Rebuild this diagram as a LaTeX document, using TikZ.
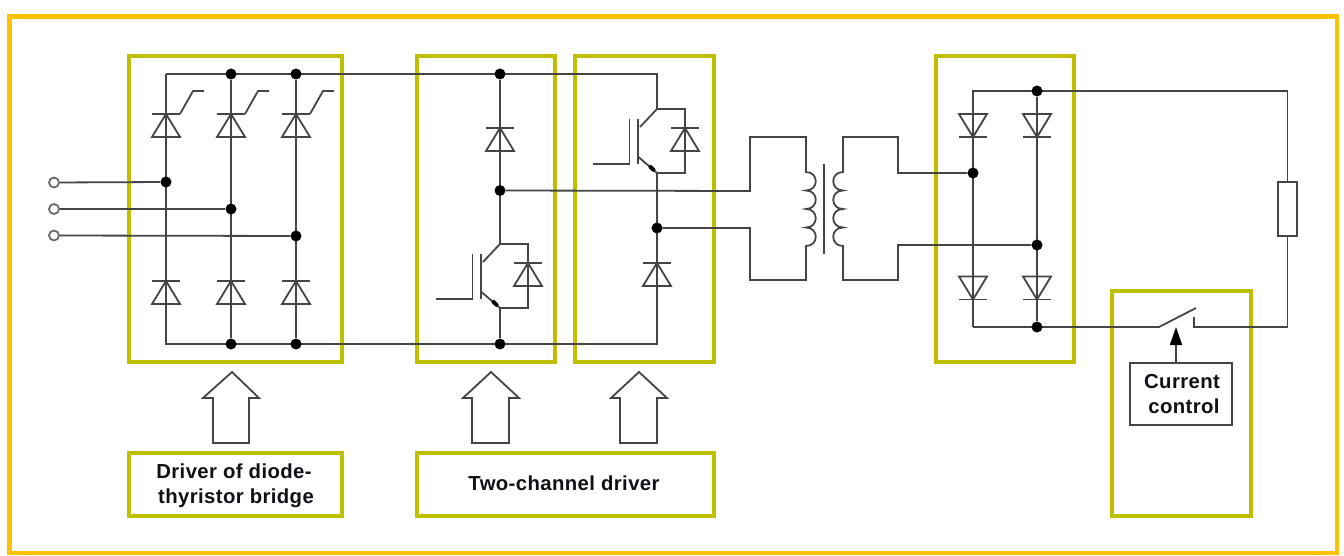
\documentclass[tikz,border=0pt]{standalone}
\usepackage{fontspec}
\setmainfont[LetterSpace=2]{Liberation Sans}
\usetikzlibrary{arrows.meta}
\pgfdeclarelayer{dotlayer}
\pgfsetlayers{main,dotlayer}
\definecolor{wirecol}{HTML}{454545}
\definecolor{framecol}{HTML}{BFBF00}
\definecolor{outercol}{HTML}{FFC000}
\definecolor{textcol}{HTML}{101018}
\tikzset{
  wire/.style={draw=wirecol,line width=1.8pt,line join=miter},
  junction/.style={circle,fill=black,draw=none,inner sep=0pt,minimum size=11pt},
  terminal/.style={circle,draw=wirecol!80,line width=1.8pt,fill=white,inner sep=0pt,minimum size=10pt},
  framebox/.style={rectangle,draw=framecol,line width=3.2pt,inner sep=0pt,outer sep=0pt},
  label/.style={font=\fontsize{20.3}{25}\selectfont\bfseries,text=textcol,inner sep=0pt,anchor=base},
  blockarrow/.style={draw=wirecol,line width=1.8pt,line join=miter,fill=white},
  diode/.pic={
    \draw[wire] (-14,0) -- (14,0);
    \draw[wire] (0,0) -- (-14,23) -- (14,23) -- cycle;
  },
  gatedtail/.pic={
    \draw[wire] (14,0) -- (27,-23) -- (38,-23);
  },
  igbt/.pic={
    \draw[wire] (0,0) -- (28,0) -- (28,64) -- (0,64);
    \draw[wire] (0,0) -- (-17,18);
    \draw[wire] (-18.5,48) -- (0,64);
    \draw[draw=black,line width=4pt,line cap=round] (-6.5,58) -- (-3.5,60.8);
    \draw[wire] (-19,10) -- (-19,55);
    \draw[wire] (-27.5,10) -- (-27.5,55) -- (-64,55);
  }
}
\begin{document}
\begin{tikzpicture}[x=1pt,y=-1pt]
\useasboundingbox (0,0) rectangle (1344,556);
\fill[white] (0,0) rectangle (1344,556);
% frames
\node[rectangle,draw=outercol,line width=4.6pt,inner sep=0pt,minimum width=1327.5pt,minimum height=536.5pt] (outer) at (673.25,284.75) {};
\node[framebox,minimum width=213pt,minimum height=306pt] (bridgebox) at (235.5,209) {};
\node[framebox,minimum width=138pt,minimum height=306pt] (leftbox) at (486,209) {};
\node[framebox,minimum width=139pt,minimum height=306pt] (rightbox) at (644.5,209) {};
\node[framebox,minimum width=138pt,minimum height=306pt] (rectbox) at (1005,209) {};
\node[framebox,minimum width=139pt,minimum height=225pt] (ctrlframe) at (1181.5,403.5) {};
\node[framebox,minimum width=213pt,minimum height=63pt] (drvone) at (235.5,484.5) {};
\node[framebox,minimum width=297pt,minimum height=63pt] (drvtwo) at (565.5,484.5) {};
\node[label] (drvonea) at (234,478) {Driver of diode-};
\node[label] (drvoneb) at (236,503) {thyristor bridge};
\node[label] (drvtwot) at (564,490) {Two-channel driver};
% coordinates
\coordinate (tl) at (166,74); \coordinate (bl) at (166,344);
\coordinate (tr) at (657,74); \coordinate (br) at (657,344);
\coordinate (qonec) at (500,244); \coordinate (qonee) at (500,308);
\coordinate (qtwoc) at (657,109); \coordinate (qtwoe) at (657,173);
\coordinate (pa) at (750,191); \coordinate (pb) at (750,137); \coordinate (pc) at (806,137); \coordinate (pd) at (806,172);
\coordinate (pe) at (806,246); \coordinate (pf) at (806,280); \coordinate (pg) at (750,280); \coordinate (ph) at (750,228);
\coordinate (sa) at (843,172); \coordinate (sb) at (843,137); \coordinate (sc) at (898,137); \coordinate (sd) at (898,173);
\coordinate (se) at (843,246); \coordinate (sf) at (843,280); \coordinate (sg) at (898,280); \coordinate (sh) at (898,245);
\coordinate (corea) at (824,164); \coordinate (coreb) at (824,254);
\coordinate (rtl) at (973,91); \coordinate (rbl) at (973,327);
\coordinate (rtr) at (1037,91); \coordinate (rbr) at (1037,327);
\coordinate (loadt) at (1287.5,91); \coordinate (loadb) at (1287.5,327);
\coordinate (swa) at (1159,327); \coordinate (swb) at (1196,308);
\coordinate (swc) at (1194,317); \coordinate (swd) at (1194,327);
\coordinate (swtip) at (1176,327);
% junctions
\begin{pgfonlayer}{dotlayer}
\node[junction] (tone) at (231,74) {};
\node[junction] (ttwo) at (296,74) {};
\node[junction] (tthree) at (500,74) {};
\node[junction] (bone) at (231,344) {};
\node[junction] (btwo) at (296,344) {};
\node[junction] (bthree) at (500,344) {};
\node[junction] (ina) at (166,182) {};
\node[junction] (inb) at (231,209) {};
\node[junction] (inc) at (296,236) {};
\node[junction] (mida) at (500,190.5) {};
\node[junction] (midb) at (657,228) {};
\node[junction] (rta) at (1037,91) {};
\node[junction] (rma) at (973,173) {};
\node[junction] (rmb) at (1037,245) {};
\node[junction] (rba) at (1037,327) {};
\node[terminal] (terma) at (54,182.5) {};
\node[terminal] (termb) at (54,209) {};
\node[terminal] (termc) at (54,235.5) {};
\end{pgfonlayer}
% wires
\draw[wire] (tl) -- (tr) -- (qtwoc);
\draw[wire] (tl) -- (bl) -- (br) -- (qtwoe);
\draw[wire] (tone) -- (bone);
\draw[wire] (ttwo) -- (btwo);
\draw[wire] (terma) -- (ina);
\draw[wire] (termb) -- (inb);
\draw[wire] (termc) -- (inc);
\draw[wire] (tthree) -- (qonec);
\draw[wire] (qonee) -- (bthree);
\draw[wire] (mida) -- (pa) -- (pb) -- (pc) -- (pd)
  .. controls (819,172) and (819,190.5) .. (806,190.5)
  .. controls (819,190.5) and (819,209) .. (806,209)
  .. controls (819,209) and (819,227.5) .. (806,227.5)
  .. controls (819,227.5) and (819,246) .. (pe)
  -- (pf) -- (pg) -- (ph) -- (midb);
\draw[wire] (corea) -- (coreb);
\draw[wire] (rma) -- (sd) -- (sc) -- (sb) -- (sa)
  .. controls (830,172) and (830,190.5) .. (843,190.5)
  .. controls (830,190.5) and (830,209) .. (843,209)
  .. controls (830,209) and (830,227.5) .. (843,227.5)
  .. controls (830,227.5) and (830,246) .. (se)
  -- (sf) -- (sg) -- (sh) -- (rmb);
\draw[wire] (rbl) -- (rtl) -- (loadt);
\draw[wire] (rta) -- (rba);
\node[rectangle,draw=wirecol,line width=1.8pt,fill=white,inner sep=0pt,minimum width=19pt,minimum height=54pt] (load) at (1287.5,209) {};
\draw[wire] (loadt) -- (load.north);
\draw[wire] (load.south) -- (loadb) -- (swd) -- (swc);
\draw[wire] (rbl) -- (swa) -- (swb);
% semiconductors
\foreach \cx in {166,231,296}{
  \pic at (\cx,114) {diode};
  \pic at (\cx,114) {gatedtail};
  \pic at (\cx,281) {diode};
}
\pic at (500,128) {diode};
\pic at (657,263) {diode};
\pic at (qonec) {igbt};
\pic at (qtwoc) {igbt};
\pic at (528,263) {diode};
\pic at (685,128) {diode};
\foreach \cx in {973,1037}{
  \pic[yscale=-1] at (\cx,137) {diode};
  \pic[yscale=-1] at (\cx,299.5) {diode};
}
% control
\node[rectangle,draw=wirecol,line width=1.8pt,fill=white,inner sep=0pt,minimum width=102pt,minimum height=62pt] (ctrl) at (1181,394) {};
\node[label] (ctrla) at (1182,388) {Current};
\node[label] (ctrlb) at (1184,413) {control};
\draw[draw=wirecol,line width=1.8pt,-{Triangle[length=18pt,width=12pt,color=black]}] (ctrl.north -| swtip) -- (swtip);
% block arrows
\draw[blockarrow] (232,372) -- (259,398) -- (249,398) -- (249,443) -- (213,443) -- (213,398) -- (203,398) -- cycle;
\draw[blockarrow] (491,372) -- (519,398) -- (509,398) -- (509,443) -- (472,443) -- (472,398) -- (463,398) -- cycle;
\draw[blockarrow] (639,372) -- (667,398) -- (657,398) -- (657,443) -- (620,443) -- (620,398) -- (611,398) -- cycle;
\end{tikzpicture}
\end{document}
